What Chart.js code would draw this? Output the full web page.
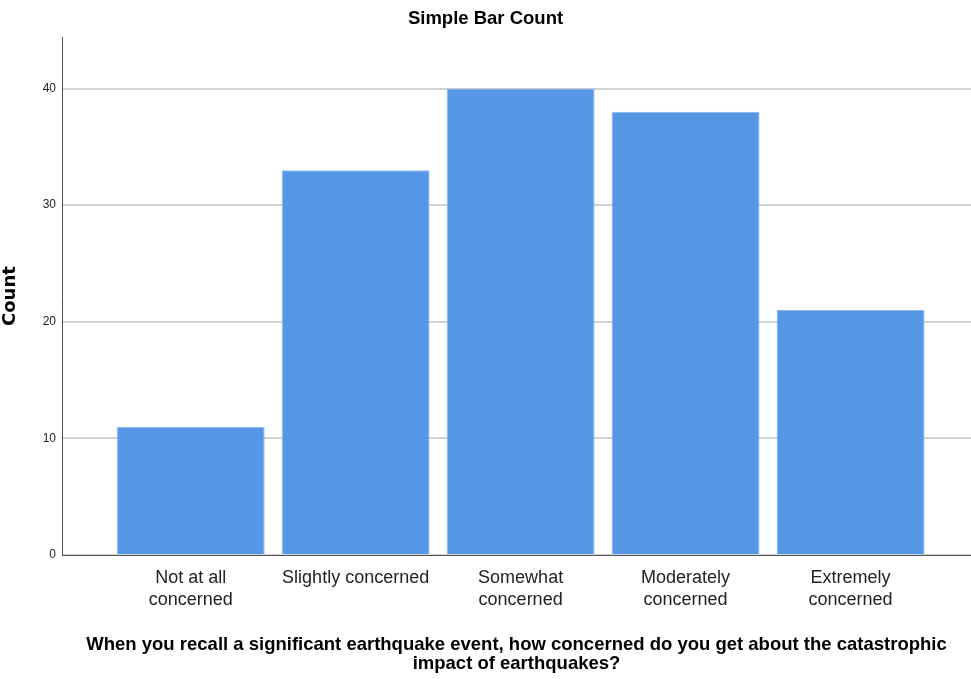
<!DOCTYPE html>
<html>
<head>
<meta charset="utf-8">
<title>Simple Bar Count</title>
<script src="https://cdn.jsdelivr.net/npm/chart.js@4"></script>
<style>
  html, body { margin: 0; padding: 0; background: #fff; }
  canvas { display: block; }
</style>
</head>
<body>
<canvas id="grafico" width="971" height="679"></canvas>
<script>
// categorias e contagens
const categorias = [['Not at all', 'concerned'], 'Slightly concerned', ['Somewhat', 'concerned'], ['Moderately', 'concerned'], ['Extremely', 'concerned']];
const contagens = [11, 33, 40, 38, 21];
const ticksY = [0, 10, 20, 30, 40];

const fonte = "'Liberation Sans', Arial, sans-serif";

const ctx = document.getElementById('grafico').getContext('2d');

const grafico = new Chart(ctx, {
    type: 'bar',
    data: {
        datasets: [{
            label: 'Count',
            data: contagens.map((v, i) => ({ x: i, y: v })),
            backgroundColor: '#5596e6',
            borderColor: '#8db8ee',
            borderWidth: 1,
            categoryPercentage: 1,
            barPercentage: 0.897
        }]
    },
    options: {
        responsive: false,
        animation: false,
        layout: { padding: 0 },
        plugins: {
            legend: { display: false },
            tooltip: { enabled: false },
            title: {
                display: true,
                text: 'Simple Bar Count',
                color: '#000',
                font: { family: fonte, size: 18.5, weight: 'bold', lineHeight: 1.2 },
                padding: { top: 8, bottom: 7 }
            }
        },
        scales: {
            x: {
                type: 'linear',
                min: -0.78,
                max: 4.73,
                offset: false,
                grid: { display: false },
                border: { color: '#555', width: 1 },
                afterBuildTicks: (scale) => {
                    scale.ticks = categorias.map((c, i) => ({ value: i }));
                },
                ticks: {
                    autoSkip: false,
                    maxRotation: 0,
                    padding: 4,
                    color: '#222',
                    font: { family: fonte, size: 18, lineHeight: 1.22 },
                    callback: (v) => categorias[v]
                },
                title: {
                    display: true,
                    text: ['When you recall a significant earthquake event, how concerned do you get about the catastrophic', 'impact of earthquakes?'],
                    color: '#000',
                    font: { family: fonte, size: 18.5, weight: 'bold', lineHeight: 1.03 },
                    padding: { top: 0, bottom: 6 }
                },
                afterFit: (scale) => { scale.height = 124; }
            },
            y: {
                min: 0,
                max: 44.4,
                afterBuildTicks: (scale) => {
                    scale.ticks = ticksY.map(v => ({ value: v }));
                },
                grid: { color: '#d2d2d2', lineWidth: 2, drawTicks: false },
                border: { color: '#555', width: 1 },
                ticks: {
                    padding: 6,
                    color: '#222',
                    font: { family: fonte, size: 12 }
                },
                title: {
                    display: true,
                    text: 'Count',
                    color: '#000',
                    font: { family: "'DejaVu Sans', sans-serif", size: 18, weight: 'bold' },
                    padding: { top: 0, bottom: 0 }
                },
                afterFit: (scale) => { scale.width = 62; }
            }
        }
    },
    plugins: [{
        id: 'fundo_branco',
        beforeDraw: (chart) => {
            const c = chart.ctx;
            c.save();
            c.fillStyle = 'white';
            c.fillRect(0, 0, chart.width, chart.height);
            c.restore();
        }
    }]
});
</script>
</body>
</html>
